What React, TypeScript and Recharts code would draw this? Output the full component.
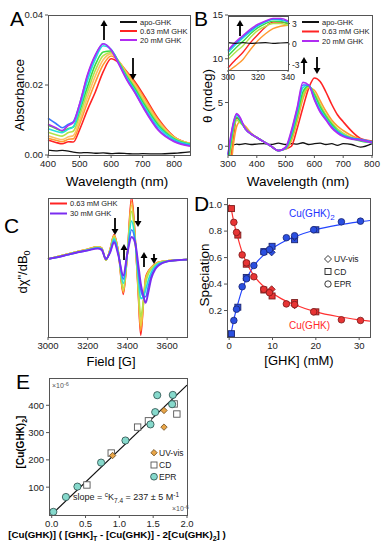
import React from 'react';
import { LineChart, Line, XAxis, YAxis, ComposedChart, Scatter } from 'recharts';

const FONT = '"Liberation Sans", Arial, Helvetica, sans-serif';

// ---------- Panel A : UV-vis absorbance ----------
const aWl = [400, 425, 445, 465, 480, 500, 525, 550, 575, 600, 625, 650, 675, 700, 750, 800, 850];
const aApo = [0.0014, 0.0012, 0.0013, 0.0011, 0.0008, 0.0006, 0.0007, 0.0005, 0.0006, 0.0004, 0.0005, 0.0004, 0.0003, 0.0004, 0.0003, 0.0005, 0.0009];
const aRed = [0.0043, 0.0036, 0.0032, 0.0038, 0.0037, 0.0072, 0.0129, 0.018, 0.0238, 0.0275, 0.0263, 0.0238, 0.021, 0.0176, 0.0103, 0.0052, 0.0033];
const aOrange = [0.0048, 0.0042, 0.0038, 0.0045, 0.0046, 0.0088, 0.015, 0.0208, 0.0258, 0.0283, 0.0267, 0.0236, 0.0205, 0.017, 0.0099, 0.0051, 0.0033];
const aPeach = [0.0055, 0.0048, 0.0044, 0.0052, 0.0055, 0.0098, 0.0165, 0.0226, 0.0272, 0.0289, 0.0267, 0.0232, 0.02, 0.0164, 0.0095, 0.005, 0.0033];
const aLime = [0.0065, 0.0058, 0.0054, 0.0064, 0.0068, 0.0112, 0.018, 0.0242, 0.0284, 0.0293, 0.0266, 0.0228, 0.0195, 0.0158, 0.009, 0.0048, 0.0032];
const aGreen = [0.0085, 0.0076, 0.0068, 0.0076, 0.008, 0.0125, 0.0195, 0.0258, 0.0294, 0.0297, 0.0264, 0.0224, 0.019, 0.0152, 0.0085, 0.0046, 0.0031];
const aCyan = [0.0075, 0.0068, 0.0064, 0.0074, 0.008, 0.0132, 0.0212, 0.0274, 0.0312, 0.0302, 0.0262, 0.022, 0.0185, 0.0146, 0.008, 0.0044, 0.003];
const aBlue = [0.0105, 0.009, 0.0078, 0.0088, 0.0095, 0.0145, 0.0226, 0.0284, 0.0318, 0.0301, 0.026, 0.0216, 0.018, 0.014, 0.0073, 0.004, 0.0027];
const aPurple = [0.0088, 0.0078, 0.007, 0.0085, 0.0092, 0.0145, 0.0229, 0.0286, 0.0318, 0.03, 0.0258, 0.0214, 0.0178, 0.0138, 0.007, 0.0038, 0.0025];
const aXTicks = [400, 500, 600, 700, 800];
const aYTicks = [0, 0.02, 0.04];

// ---------- Panel B : CD ----------
const bWl = [300, 310, 320, 330, 340, 360, 380, 400, 425, 450, 475, 500, 520, 540, 560, 580, 600, 620, 640, 660, 680, 700, 730, 760, 800];
const bApo = [0.1, 0.2, 0.15, 0.25, 0.2, 0.3, 0.2, 0.25, 0.3, 0.2, 0.35, 0.2, 0.3, 0.25, 0.4, 0.2, 0.3, 0.35, 0.2, 0.3, 0.1, 0.3, 0.2, -0.1, 0.3];
const bRed = [-3.5, -1.2, 1.4, 3.2, 3.0, 2.1, 1.4, 1.0, 0.5, 0.0, -0.5, -0.3, 0.0, 2.0, 4.4, 6.6, 7.8, 7.4, 6.2, 4.8, 3.6, 2.8, 1.7, 0.9, 0.6];
const bOrange = [-4.0, -2.25, 0.5, 2.25, 2.75, 2.3, 1.5, 1.0, 0.5, 0.0, -0.5, -0.3, 0.6, 2.8, 5.4, 6.7, 6.4, 5.2, 4.0, 3.0, 2.3, 1.8, 1.2, 0.8, 0.5];
const bLime = [-2.25, -0.25, 2.0, 3.0, 2.75, 2.1, 1.4, 1.0, 0.5, 0.0, -0.5, -0.3, 0.9, 3.2, 5.8, 6.8, 6.1, 4.8, 3.6, 2.7, 2.0, 1.5, 1.0, 0.7, 0.5];
const bGreen = [-1.75, 0.4, 2.4, 3.35, 3.0, 2.0, 1.4, 1.0, 0.5, 0.0, -0.5, -0.25, 1.1, 3.5, 6.2, 6.9, 5.9, 4.5, 3.4, 2.5, 1.8, 1.3, 0.9, 0.6, 0.4];
const bCyan = [-1.25, 0.9, 2.65, 3.6, 3.25, 2.0, 1.4, 1.0, 0.5, 0.0, -0.5, -0.2, 1.4, 3.9, 6.7, 7.0, 5.6, 4.2, 3.2, 2.3, 1.7, 1.3, 0.9, 0.7, 0.4];
const bBlue = [-1.0, 1.1, 2.75, 3.65, 3.3, 2.0, 1.4, 1.0, 0.5, 0.0, -0.5, -0.2, 1.6, 4.2, 7.0, 7.0, 5.4, 4.0, 3.1, 2.2, 1.6, 1.2, 0.9, 0.8, 0.5];
const bPurple = [-0.9, 1.25, 2.9, 3.75, 3.4, 2.0, 1.4, 1.0, 0.5, 0.0, -0.5, -0.1, 1.8, 4.4, 7.3, 7.0, 5.3, 3.9, 3.0, 2.1, 1.5, 1.1, 0.8, 0.7, 0.4];
const bXTicks = [300, 400, 500, 600, 700, 800];
const bYTicks = [0, 5, 10, 15];

// inset of B (300-340 nm)
const biWl = [300, 305, 310, 315, 320, 325, 330, 335, 340];
const biApo = [0.2, 0.1, 0.2, 0.1, 0.15, 0.2, 0.1, 0.15, 0.2];
const biRed = [-3.5, -2.3, -1.2, 0.2, 1.4, 2.5, 3.2, 3.2, 3.0];
const biOrange = [-4.0, -3.2, -2.25, -0.8, 0.5, 1.5, 2.25, 2.6, 2.75];
const biLime = [-2.25, -1.2, -0.25, 1.0, 2.0, 2.6, 3.0, 3.0, 2.75];
const biGreen = [-1.75, -0.6, 0.4, 1.5, 2.4, 3.0, 3.35, 3.3, 3.0];
const biCyan = [-1.25, -0.1, 0.9, 1.8, 2.65, 3.2, 3.6, 3.5, 3.25];
const biBlue = [-1.0, 0.1, 1.1, 2.0, 2.75, 3.3, 3.65, 3.6, 3.3];
const biPurple = [-0.9, 0.3, 1.25, 2.2, 2.9, 3.4, 3.75, 3.75, 3.4];

// ---------- Panel C : EPR ----------
const cField = [3000, 3050, 3100, 3150, 3200, 3250, 3270, 3292, 3312, 3333, 3355, 3379, 3400, 3421, 3440, 3455, 3467, 3480, 3492, 3505, 3520, 3540, 3560, 3600, 3650, 3700];
const cRed = [0, 0.04, 0.08, 0.12, 0.16, 0.2, 0.18, -0.02, 0.15, 0.4, 0.1, -0.58, 0.1, 1.02, 0.3, -0.6, -1.25, -0.75, -0.3, -0.2, -0.14, -0.08, -0.05, -0.03, -0.02, -0.01];
const cOrange = [0, 0.04, 0.08, 0.12, 0.16, 0.2, 0.18, -0.02, 0.15, 0.39, 0.1, -0.55, 0.1, 0.95, 0.28, -0.55, -1.18, -0.75, -0.32, -0.21, -0.14, -0.08, -0.05, -0.03, -0.02, -0.01];
const cYellow = [0, 0.04, 0.08, 0.12, 0.16, 0.2, 0.18, -0.02, 0.14, 0.38, 0.1, -0.52, 0.1, 0.88, 0.27, -0.5, -1.1, -0.72, -0.35, -0.22, -0.15, -0.09, -0.05, -0.03, -0.02, -0.01];
const cLime = [0, 0.04, 0.08, 0.12, 0.15, 0.19, 0.17, -0.01, 0.13, 0.36, 0.09, -0.48, 0.1, 0.78, 0.26, -0.45, -0.95, -0.7, -0.4, -0.25, -0.17, -0.1, -0.06, -0.03, -0.02, -0.01];
const cCyan = [0, 0.03, 0.07, 0.11, 0.15, 0.18, 0.16, -0.01, 0.12, 0.33, 0.08, -0.4, 0.1, 0.62, 0.26, -0.3, -0.65, -0.62, -0.5, -0.35, -0.22, -0.12, -0.07, -0.04, -0.02, -0.01];
const cBlue = [0, 0.03, 0.07, 0.11, 0.14, 0.18, 0.16, 0.0, 0.11, 0.3, 0.07, -0.33, 0.1, 0.48, 0.26, -0.2, -0.5, -0.62, -0.62, -0.45, -0.28, -0.15, -0.09, -0.04, -0.02, -0.01];
const cViolet = [0, 0.03, 0.07, 0.11, 0.14, 0.17, 0.15, 0.0, 0.1, 0.27, 0.05, -0.27, 0.1, 0.36, 0.25, -0.1, -0.4, -0.6, -0.72, -0.55, -0.32, -0.17, -0.1, -0.04, -0.02, -0.01];
const cXTicks = [3000, 3200, 3400, 3600];

// ---------- Panel D : speciation ----------
const dUvX = [9.8, 15.1];
const dUvBis = [0.64, 0.755];
const dUvMono = [0.36, 0.24];
const dCdX = [0.54, 2.0, 3.95, 8.0, 9.9, 15.1, 20.0];
const dCdBis = [0.025, 0.225, 0.45, 0.645, 0.685, 0.735, 0.81];
const dCdMono = [0.97, 0.77, 0.55, 0.355, 0.31, 0.26, 0.19];
const dEprX = [1.08, 1.7, 3.0, 4.0, 5.7, 8.0, 9.3, 13.2, 15.1, 19.5, 25.9, 30.3];
const dEprBis = [0.125, 0.21, 0.38, 0.44, 0.54, 0.64, 0.66, 0.75, 0.765, 0.81, 0.87, 0.875];
const dEprMono = [0.866, 0.79, 0.62, 0.56, 0.455, 0.36, 0.335, 0.25, 0.245, 0.19, 0.13, 0.125];
const dFitX = [0, 0.5, 1, 2, 3, 4, 5, 6, 8, 10, 12, 15, 20, 25, 30, 32.5];
const dFitBis = [0.0, 0.04, 0.12, 0.25, 0.36, 0.44, 0.5, 0.55, 0.62, 0.67, 0.71, 0.755, 0.81, 0.845, 0.87, 0.88];
const dFitMono = [1.0, 0.96, 0.88, 0.75, 0.64, 0.56, 0.5, 0.45, 0.38, 0.33, 0.29, 0.245, 0.19, 0.155, 0.13, 0.12];
const dXTicks = [0, 10, 20, 30];
const dYTicks = [0.2, 0.4, 0.6, 0.8, 1.0];

// ---------- Panel E : linear fit ----------
const eUvX = [0.9, 1.66, 1.66];
const eUvY = [216, 381, 320];
const eCdX = [0.52, 0.88, 1.27, 1.43, 1.81, 1.85];
const eCdY = [108, 225, 320, 343, 405, 368];
const eEprX = [0.024, 0.21, 0.38, 0.73, 1.09, 1.46, 1.53, 1.56, 1.78, 1.79];
const eEprY = [9.5, 64, 102, 190, 271, 330, 375, 437, 404, 438];
const eFitX = [0, 2.0];
const eFitY = [0, 474];
const eXTicks = [0, 0.5, 1.0, 1.5, 2.0];
const eYTicks = [100, 200, 300, 400];

const C = {
  apo: '#111111',
  red: '#ff2424',
  orange: '#ff9a30',
  peach: '#ffbe66',
  yellow: '#e8d040',
  lime: '#b2e24a',
  green: '#38dc44',
  cyan: '#22dede',
  blue: '#3a78ff',
  purple: '#b02cf2',
  violet: '#7a2cf0',
};

type Frame = { x0: number; y0: number; x1: number; y1: number };
const FA: Frame = { x0: 48, y0: 15, x1: 190, y1: 155 };
const FB: Frame = { x0: 228, y0: 15, x1: 372, y1: 155 };
const FBi: Frame = { x0: 228, y0: 16, x1: 288, y1: 70 };
const FC: Frame = { x0: 48, y0: 198, x1: 187, y1: 337 };
const FD: Frame = { x0: 227, y0: 198, x1: 370, y1: 337 };
const FE: Frame = { x0: 49, y0: 378, x1: 187, y1: 515 };

// chart box around a plot frame: 40px for the y axis, 20px for the x axis, room on the right for end labels
const pos = (f: Frame) => ({ position: 'absolute' as const, left: f.x0 - 40, top: f.y0 - 5 });
const W = (f: Frame) => f.x1 - f.x0 + 58;
const H = (f: Frame) => f.y1 - f.y0 + 25;
const M = { top: 5, right: 18, left: 0, bottom: 0 };

const tick = { fontSize: 9.5, fill: '#222', fontFamily: FONT };
const axisStyle = { tick, tickSize: 3, axisLine: false, tickLine: { stroke: '#555' }, interval: 0 as const };

const rows = (xs: number[], series: Record<string, number[]>) =>
  xs.map((x, i) => {
    const r: Record<string, number> = { x };
    Object.keys(series).forEach((k) => (r[k] = series[k][i]));
    return r;
  });
const pts = (xs: number[], ys: number[]) => xs.map((x, i) => ({ x, y: ys[i] }));

const aRows = rows(aWl, { red: aRed, orange: aOrange, peach: aPeach, lime: aLime, green: aGreen, cyan: aCyan, blue: aBlue, purple: aPurple, apo: aApo });
const bRows = rows(bWl, { red: bRed, orange: bOrange, lime: bLime, green: bGreen, cyan: bCyan, blue: bBlue, purple: bPurple, apo: bApo });
const biRows = rows(biWl, { orange: biOrange, red: biRed, lime: biLime, green: biGreen, cyan: biCyan, blue: biBlue, purple: biPurple, apo: biApo });
const cRows = rows(cField, { red: cRed, orange: cOrange, yellow: cYellow, lime: cLime, cyan: cCyan, blue: cBlue, violet: cViolet });

const lines = (keys: string[], width = 1.6) =>
  keys.map((k) => (
    <Line key={k} dataKey={k} type="monotone" stroke={(C as any)[k]} strokeWidth={width} dot={false} isAnimationActive={false} />
  ));

const circle = (fill: string, stroke: string, r = 3.3) => (p: any) => (
  <circle cx={p.cx} cy={p.cy} r={r} fill={fill} stroke={stroke} strokeWidth={0.8} />
);
const square = (fill: string, stroke: string, s = 3) => (p: any) => (
  <rect x={p.cx - s} y={p.cy - s} width={2 * s} height={2 * s} fill={fill} stroke={stroke} strokeWidth={0.9} />
);
const diamond = (fill: string, stroke: string, s = 3.6) => (p: any) => (
  <polygon points={`${p.cx},${p.cy - s} ${p.cx + s},${p.cy} ${p.cx},${p.cy + s} ${p.cx - s},${p.cy}`} fill={fill} stroke={stroke} strokeWidth={0.8} />
);

function PanelA() {
  return (
    <div style={pos(FA)}>
      <LineChart width={W(FA)} height={H(FA)} data={aRows} margin={M}>
        <XAxis dataKey="x" type="number" domain={[400, 850]} ticks={aXTicks} height={20} {...axisStyle} />
        <YAxis type="number" domain={[0, 0.04]} ticks={aYTicks} width={40} tickFormatter={(v: number) => v.toFixed(2)} {...axisStyle} />
        {lines(['red', 'orange', 'peach', 'lime', 'green', 'cyan', 'blue', 'purple'])}
        {lines(['apo'], 1.3)}
      </LineChart>
    </div>
  );
}

function PanelB() {
  const insetTick = { ...tick, fontSize: 8.5 };
  const padL = 12;
  return (
    <>
      <div style={pos(FB)}>
        <LineChart width={W(FB)} height={H(FB)} data={bRows} margin={M}>
          <XAxis dataKey="x" type="number" domain={[300, 800]} ticks={bXTicks} height={20} {...axisStyle} />
          <YAxis type="number" domain={[-1, 15]} ticks={bYTicks} width={40} allowDataOverflow {...axisStyle} />
          {lines(['apo'], 1.3)}
          {lines(['red', 'orange', 'lime', 'green', 'cyan', 'blue', 'purple'])}
        </LineChart>
      </div>
      <div style={{ position: 'absolute', left: FBi.x0, top: FBi.y0, width: FBi.x1 - FBi.x0, height: FBi.y1 - FBi.y0, background: '#fff' }} />
      <div style={{ position: 'absolute', left: FBi.x0 - padL, top: FBi.y0 - 2 }}>
        <LineChart width={FBi.x1 - FBi.x0 + padL + 16} height={FBi.y1 - FBi.y0 + 2 + 13} data={biRows} margin={{ top: 2, left: padL, right: 0, bottom: 0 }}>
          <XAxis dataKey="x" type="number" domain={[300, 340]} ticks={[300, 320, 340]} height={13} interval={0} tick={insetTick} tickSize={2} axisLine={false} tickLine={{ stroke: '#555' }} />
          <YAxis orientation="right" type="number" domain={[-3.8, 4.1]} ticks={[-3, 0, 3]} width={16} interval={0} allowDataOverflow tick={insetTick} tickSize={2} axisLine={false} tickLine={{ stroke: '#555' }} />
          {lines(['orange', 'red', 'lime', 'green', 'cyan', 'blue', 'purple'], 1.4)}
          {lines(['apo'], 1.1)}
        </LineChart>
      </div>
    </>
  );
}

function PanelC() {
  return (
    <div style={pos(FC)}>
      <LineChart width={W(FC)} height={H(FC)} data={cRows} margin={M}>
        <XAxis dataKey="x" type="number" domain={[3000, 3700]} ticks={cXTicks} height={20} {...axisStyle} />
        <YAxis type="number" domain={[-1.28, 1.0]} width={40} tick={false} tickLine={false} axisLine={false} allowDataOverflow />
        {lines(['red', 'orange', 'yellow', 'lime', 'cyan', 'blue'])}
        {lines(['violet'], 1.9)}
      </LineChart>
    </div>
  );
}

const DB = '#2a4fe0';
const DBE = '#1a2470';
const DR = '#e83434';
const DRE = '#7a1c1c';

function PanelD() {
  return (
    <div style={pos(FD)}>
      <ComposedChart width={W(FD)} height={H(FD)} margin={M}>
        <XAxis dataKey="x" type="number" domain={[-0.5, 32.5]} ticks={dXTicks} height={20} {...axisStyle} />
        <YAxis dataKey="y" type="number" domain={[0.01, 1.05]} ticks={dYTicks} width={40} tickFormatter={(v: number) => v.toFixed(1)} {...axisStyle} />
        <Line data={pts(dFitX, dFitBis)} dataKey="y" type="monotone" stroke="#2244ff" strokeWidth={1.2} dot={false} isAnimationActive={false} />
        <Line data={pts(dFitX, dFitMono)} dataKey="y" type="monotone" stroke="#ff3030" strokeWidth={1.2} dot={false} isAnimationActive={false} />
        <Scatter data={pts(dCdX, dCdBis)} shape={square(DB, DBE)} isAnimationActive={false} />
        <Scatter data={pts(dCdX, dCdMono)} shape={square(DR, DRE)} isAnimationActive={false} />
        <Scatter data={pts(dUvX, dUvBis)} shape={diamond(DB, DBE)} isAnimationActive={false} />
        <Scatter data={pts(dUvX, dUvMono)} shape={diamond(DR, DRE)} isAnimationActive={false} />
        <Scatter data={pts(dEprX, dEprBis)} shape={circle(DB, DBE)} isAnimationActive={false} />
        <Scatter data={pts(dEprX, dEprMono)} shape={circle(DR, DRE)} isAnimationActive={false} />
      </ComposedChart>
    </div>
  );
}

const EPR_FILL = '#86d9cc';

function PanelE() {
  return (
    <div style={pos(FE)}>
      <ComposedChart width={W(FE)} height={H(FE)} margin={M}>
        <XAxis dataKey="x" type="number" domain={[-0.04, 2.0]} ticks={eXTicks} height={20} tickFormatter={(v: number) => v.toFixed(1)} {...axisStyle} />
        <YAxis dataKey="y" type="number" domain={[-2, 500]} ticks={eYTicks} width={40} {...axisStyle} />
        <Line data={pts(eFitX, eFitY)} dataKey="y" type="linear" stroke="#111" strokeWidth={1.2} dot={false} isAnimationActive={false} />
        <Scatter data={pts(eCdX, eCdY)} shape={square('#fff', '#555', 3.2)} isAnimationActive={false} />
        <Scatter data={pts(eUvX, eUvY)} shape={diamond('#e8a548', '#6a4a20', 3.2)} isAnimationActive={false} />
        <Scatter data={pts(eEprX, eEprY)} shape={circle(EPR_FILL, '#2a4a48', 3.6)} isAnimationActive={false} />
      </ComposedChart>
    </div>
  );
}

function Arrow({ x, from, to }: { x: number; from: number; to: number }) {
  const dir = to < from ? -1 : 1;
  const hl = 6;
  return (
    <g>
      <line x1={x} y1={from} x2={x} y2={to - dir * hl} stroke="#000" strokeWidth={1.8} />
      <polygon points={`${x - 3.5},${to - dir * hl} ${x + 3.5},${to - dir * hl} ${x},${to}`} fill="#000" />
    </g>
  );
}

function LegendLine({ x, y, color, label }: { x: number; y: number; color: string; label: string }) {
  return (
    <g>
      <line x1={x} y1={y} x2={x + 17} y2={y} stroke={color} strokeWidth={2} />
      <text x={x + 20} y={y + 2.6} fontSize={7.5} fill="#222">{label}</text>
    </g>
  );
}

function FrameRect({ f }: { f: Frame }) {
  return <rect x={f.x0 + 0.5} y={f.y0 + 0.5} width={f.x1 - f.x0} height={f.y1 - f.y0} fill="none" stroke="#555" strokeWidth={1} />;
}

function Overlay() {
  return (
    <svg width={384} height={550} style={{ position: 'absolute', left: 0, top: 0, pointerEvents: 'none' }} fontFamily={FONT}>
      {[FA, FB, FBi, FC, FD, FE].map((f, i) => (
        <FrameRect key={i} f={f} />
      ))}

      {/* panel letters */}
      <text x={10} y={26} fontSize={21}>A</text>
      <text x={194} y={26} fontSize={21}>B</text>
      <text x={4} y={233} fontSize={21}>C</text>
      <text x={194} y={211} fontSize={21}>D</text>
      <text x={16} y={389} fontSize={21}>E</text>

      {/* axis titles */}
      <text x={117} y={186} fontSize={13.5} textAnchor="middle">Wavelength (nm)</text>
      <text x={298} y={186} fontSize={13.5} textAnchor="middle">Wavelength (nm)</text>
      <text x={111} y={366} fontSize={13} textAnchor="middle">Field [G]</text>
      <text x={299} y={365} fontSize={13} textAnchor="middle">[GHK] (mM)</text>
      <text transform="translate(24,95) rotate(-90)" fontSize={13.5} textAnchor="middle">Absorbance</text>
      <text transform="translate(212,96) rotate(-90)" fontSize={13.5} textAnchor="middle">θ (mdeg)</text>
      <text transform="translate(27,272) rotate(-90)" fontSize={13} textAnchor="middle">
        dχ"/dB<tspan dy={3} fontSize={9}>0</tspan>
      </text>
      <text transform="translate(209,275) rotate(-90)" fontSize={13.5} textAnchor="middle">Speciation</text>
      <text transform="translate(24,442) rotate(-90)" fontSize={10} fontWeight="bold" textAnchor="middle">
        [Cu(GHK)<tspan dy={2.5} fontSize={7}>2</tspan><tspan dy={-2.5}>]</tspan>
      </text>
      <text x={117} y={538} fontSize={9.8} fontWeight="bold" textAnchor="middle">
        [Cu(GHK)] ( [GHK]<tspan dy={2.5} fontSize={7}>T</tspan>
        <tspan dy={-2.5}> - [Cu(GHK)] - 2[Cu(GHK)</tspan>
        <tspan dy={2.5} fontSize={7}>2</tspan>
        <tspan dy={-2.5}>] )</tspan>
      </text>

      {/* legends */}
      <LegendLine x={120} y={22} color={C.apo} label="apo-GHK" />
      <LegendLine x={120} y={31} color={C.red} label="0.63 mM GHK" />
      <LegendLine x={120} y={40} color={C.purple} label="20 mM GHK" />
      <LegendLine x={302} y={22} color={C.apo} label="apo-GHK" />
      <LegendLine x={302} y={31.5} color={C.red} label="0.63 mM GHK" />
      <LegendLine x={302} y={41} color={C.purple} label="20 mM GHK" />
      <LegendLine x={50} y={203.5} color={C.red} label="0.63 mM GHK" />
      <LegendLine x={50} y={213.5} color={C.violet} label="30 mM GHK" />

      {/* D legend and labels */}
      <polygon points="328,255.5 331.5,259 328,262.5 324.5,259" fill="#fff" stroke="#222" strokeWidth={0.9} />
      <text x={334} y={262} fontSize={8.5} fill="#222">UV-vis</text>
      <rect x={325} y={268.5} width={6} height={6} fill="#fff" stroke="#222" strokeWidth={0.9} />
      <text x={334} y={274.5} fontSize={8.5} fill="#222">CD</text>
      <circle cx={328} cy={284} r={3.2} fill="#fff" stroke="#222" strokeWidth={0.9} />
      <text x={334} y={287} fontSize={8.5} fill="#222">EPR</text>
      <text x={289} y={217} fontSize={10} fill="#2233ff">
        Cu(GHK)<tspan dy={3} fontSize={8}>2</tspan>
      </text>
      <text x={289} y={329} fontSize={10} fill="#ff2a2a">Cu(GHK)</text>

      {/* E legend and labels */}
      <polygon points="154,449.5 157.2,452.7 154,455.9 150.8,452.7" fill="#e8a548" stroke="#6a4a20" strokeWidth={0.8} />
      <text x={159} y={455.7} fontSize={8.5} fill="#222">UV-vis</text>
      <rect x={151} y={462} width={6} height={6} fill="#fff" stroke="#555" strokeWidth={0.9} />
      <text x={159} y={468} fontSize={8.5} fill="#222">CD</text>
      <circle cx={154} cy={476.7} r={3.4} fill={EPR_FILL} stroke="#2a4a48" strokeWidth={0.8} />
      <text x={159} y={479.7} fontSize={8.5} fill="#222">EPR</text>
      <text x={73} y={500} fontSize={9} fill="#222">
        slope = <tspan dy={-3} fontSize={6.5}>c</tspan>
        <tspan dy={3}>K</tspan>
        <tspan dy={2.5} fontSize={6.5}>7.4</tspan>
        <tspan dy={-2.5}> = 237 ± 5 M</tspan>
        <tspan dy={-3} fontSize={6.5}>-1</tspan>
      </text>
      <text x={52} y={388} fontSize={7} fill="#555">
        ×10<tspan dy={-2.5} fontSize={5.5}>-6</tspan>
      </text>
      <text x={172} y={511} fontSize={7} fill="#555">
        ×10<tspan dy={-2.5} fontSize={5.5}>-6</tspan>
      </text>

      {/* arrows */}
      <Arrow x={104} from={40} to={20} />
      <Arrow x={133} from={58} to={80} />
      <Arrow x={304} from={74} to={57} />
      <Arrow x={317} from={57} to={74} />
      <Arrow x={240} from={36} to={20} />
      <Arrow x={115} from={218} to={235} />
      <Arrow x={124} from={260} to={244} />
      <Arrow x={138} from={207} to={227} />
      <Arrow x={144} from={267} to={252} />
      <Arrow x={154} from={254} to={264} />
    </svg>
  );
}

export default function App() {
  return (
    <div style={{ position: 'absolute', left: 0, top: 0, width: 384, height: 550, background: '#fff', overflow: 'hidden', fontFamily: FONT }}>
      <PanelA />
      <PanelB />
      <PanelC />
      <PanelD />
      <PanelE />
      <Overlay />
    </div>
  );
}
